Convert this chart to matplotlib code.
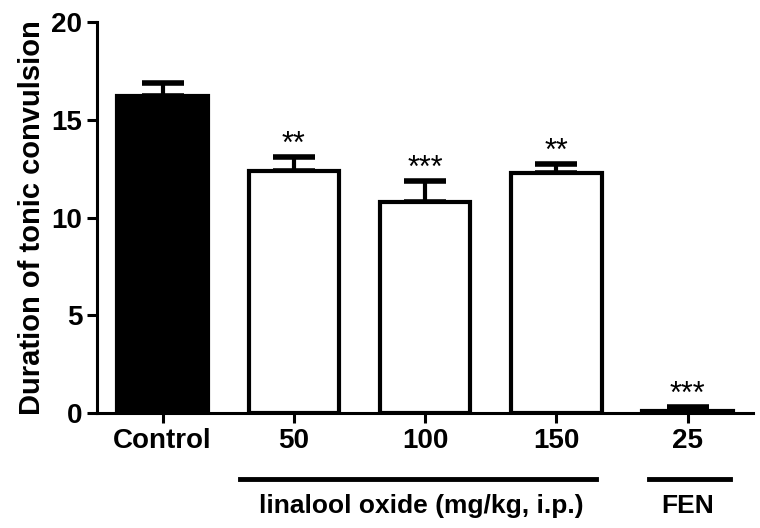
import matplotlib.pyplot as plt
import numpy as np

plt.rcParams['font.family'] = ['Liberation Sans', 'DejaVu Sans']

# groups: control, linalool oxide 50/100/150 mg/kg, FEN 25 mg/kg
labels = ["Control", "50", "100", "150", "25"]
means = [16.2, 12.4, 10.8, 12.3, 0.12]
sem = [0.7, 0.7, 1.05, 0.45, 0.18]
stars = ["", "**", "***", "**", "***"]
colors = ["black", "white", "white", "white", "white"]


def plot_bar():
    fig = plt.figure(figsize=(7.6, 5.28), dpi=100)
    ax = fig.add_axes([0.1276, 0.2178, 0.8634, 0.7405])
    x = np.arange(len(labels))

    ax.bar(x, means, 0.69, color=colors, edgecolor="black", linewidth=3, zorder=2)
    ax.errorbar(x, means, yerr=[np.zeros(len(sem)), sem], fmt="none",
                ecolor="black", elinewidth=3, capsize=15, capthick=4, zorder=1)

    for xi, m, s, st in zip(x, means, sem, stars):
        if st:
            ax.text(xi, m + s - 0.15, st, ha="center", va="bottom", fontsize=22)

    ax.set_xlim(-0.5, 4.5)
    ax.set_ylim(0, 20)
    ax.set_yticks([0, 5, 10, 15, 20])
    ax.set_xticks(x)
    ax.set_xticklabels(labels)
    for sp in ["top", "right"]:
        ax.spines[sp].set_visible(False)
    for sp in ["left", "bottom"]:
        ax.spines[sp].set_linewidth(2.2)
    ax.tick_params(width=2.2, length=7, labelsize=20)
    for t in ax.get_xticklabels() + ax.get_yticklabels():
        t.set_fontweight("bold")
    ax.set_ylabel("Duration of tonic convulsion", fontsize=21, fontweight="bold", labelpad=4)

    # group lines and labels under the axis
    ax.plot([0.59, 3.3], [-3.4, -3.4], color="black", lw=3.5, clip_on=False)
    ax.text(1.97, -4.75, "linalool oxide (mg/kg, i.p.)", ha="center", va="center",
            fontsize=19, fontweight="bold")
    ax.plot([3.71, 4.32], [-3.4, -3.4], color="black", lw=3.5, clip_on=False)
    ax.text(4.0, -4.75, "FEN", ha="center", va="center", fontsize=19, fontweight="bold")

    fig.savefig("out.png", dpi=100)


if __name__ == "__main__":
    plot_bar()
